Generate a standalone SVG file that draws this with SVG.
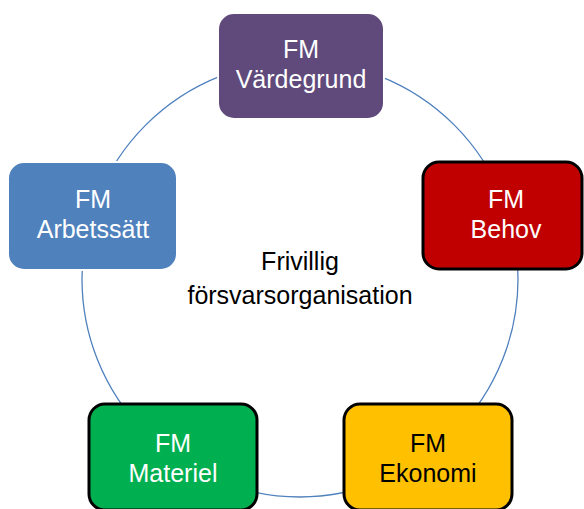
<svg xmlns="http://www.w3.org/2000/svg" width="584" height="509" viewBox="0 0 584 509">
<style>
.box{stroke-width:3}
.w{stroke:#ffffff;stroke-width:2}
.k{stroke:#000000;stroke-width:3}
text{font-family:"Liberation Sans",Arial,sans-serif;font-size:25px;text-anchor:middle}
.lt{fill:#ffffff}
.dk{fill:#000000}
.ring{fill:none;stroke:#4F81BD;stroke-width:1.3}
</style>
<rect width="584" height="509" fill="#ffffff"/>
<g id="connectors">
<circle class="ring" cx="300" cy="279" r="218"/>
</g>
<g id="center">
<text class="dk" x="300" y="270">Frivillig</text>
<text class="dk" x="300" y="304">försvarsorganisation</text>
</g>
<g id="vardegrund">
<rect class="w" x="218" y="13" width="166" height="106" rx="16" fill="#604A7B"/>
<text class="lt" x="301" y="58">FM</text>
<text class="lt" x="301" y="88">Värdegrund</text>
</g>
<g id="arbetssatt">
<rect class="w" x="8" y="162" width="169" height="108" rx="16" fill="#4F81BD"/>
<text class="lt" x="93" y="208">FM</text>
<text class="lt" x="93" y="238">Arbetssätt</text>
</g>
<g id="behov">
<rect class="k" x="423" y="162" width="159" height="107" rx="16" fill="#C00000"/>
<text class="lt" x="506" y="208">FM</text>
<text class="lt" x="506" y="238">Behov</text>
</g>
<g id="materiel">
<rect class="k" x="89" y="404" width="168" height="106" rx="16" fill="#00B050"/>
<text class="lt" x="173" y="452">FM</text>
<text class="lt" x="173" y="482">Materiel</text>
</g>
<g id="ekonomi">
<rect class="k" x="344" y="404" width="168" height="106" rx="16" fill="#FFC000"/>
<text class="dk" x="428" y="452">FM</text>
<text class="dk" x="428" y="482">Ekonomi</text>
</g>
</svg>
